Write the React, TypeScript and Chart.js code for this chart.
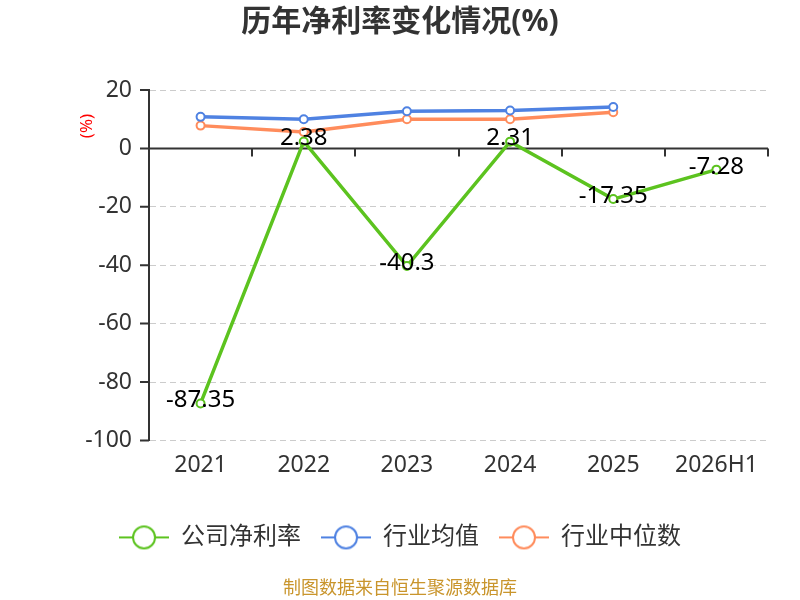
import { Chart, registerables } from "chart.js";
import { useEffect, useRef } from "react";

Chart.register(...registerables);

const years = ["2021", "2022", "2023", "2024", "2025", "2026H1"];
const companyRate = [-87.35, 2.38, -40.3, 2.31, -17.35, -7.28];
const industryAvg = [10.8, 10.0, 12.7, 13.0, 14.2, null];
const industryMedian = [7.8, 5.6, 10.0, 10.0, 12.4, null];
const seriesNames = ["公司净利率", "行业均值", "行业中位数"];
const seriesColors = ["#5cc31f", "#4f82e2", "#ff8c5c"];

const FONT = '"Noto Sans", "Noto Sans CJK SC", sans-serif';

function legendIcon(color: string) {
  const c = document.createElement("canvas");
  c.width = 50;
  c.height = 26;
  const g = c.getContext("2d")!;
  g.strokeStyle = color;
  g.lineWidth = 2;
  g.beginPath();
  g.moveTo(0, 13);
  g.lineTo(50, 13);
  g.stroke();
  g.beginPath();
  g.arc(25, 13, 11, 0, Math.PI * 2);
  g.fillStyle = "#fff";
  g.fill();
  g.stroke();
  return c;
}

const extras = {
  id: "extras",
  beforeDatasetsDraw(chart: any) {
    const { ctx, chartArea, scales } = chart;
    const x = scales.x;
    const y = scales.y;
    const y0 = y.getPixelForValue(0);
    ctx.save();
    ctx.strokeStyle = "#333";
    ctx.lineWidth = 2;
    ctx.beginPath();
    ctx.moveTo(chartArea.left, y0);
    ctx.lineTo(chartArea.right, y0);
    for (let i = 0; i <= years.length; i++) {
      const px = Math.round(x.getPixelForValue(i - 0.5));
      ctx.moveTo(px, y0);
      ctx.lineTo(px, y0 + 8);
    }
    for (const t of y.ticks) {
      const py = y.getPixelForValue(t.value);
      ctx.moveTo(chartArea.left - 9, py);
      ctx.lineTo(chartArea.left, py);
    }
    ctx.stroke();
    ctx.restore();
  },
  afterDatasetsDraw(chart: any) {
    const { ctx } = chart;
    const meta = chart.getDatasetMeta(0);
    ctx.save();
    ctx.font = `24px ${FONT}`;
    ctx.fillStyle = "#000";
    ctx.textAlign = "center";
    ctx.textBaseline = "middle";
    meta.data.forEach((pt: any, i: number) => {
      ctx.fillText(String(companyRate[i]), pt.x, pt.y - 3);
    });
    ctx.restore();
  },
  afterDraw(chart: any) {
    const { ctx } = chart;
    ctx.save();
    ctx.translate(87, 126);
    ctx.rotate(-Math.PI / 2);
    ctx.font = `17px ${FONT}`;
    ctx.fillStyle = "#ff0000";
    ctx.textAlign = "center";
    ctx.textBaseline = "middle";
    ctx.fillText("(%)", 0, 0);
    ctx.restore();
  },
};

function App() {
  const chartRef = useRef<HTMLCanvasElement | null>(null);
  useEffect(() => {
    const ctx = chartRef.current?.getContext("2d");
    if (!ctx) return;
    const icons = seriesColors.map(legendIcon);
    const values = [companyRate, industryAvg, industryMedian];

    const chart = new Chart(ctx, {
      type: "line",
      data: {
        labels: years,
        datasets: values.map((d, i) => ({
          label: seriesNames[i],
          data: d,
          borderColor: seriesColors[i],
          backgroundColor: "#fff",
          borderWidth: 3.5,
          pointRadius: 4,
          pointBorderWidth: 2,
          pointBackgroundColor: "#fff",
          pointBorderColor: seriesColors[i],
          tension: 0,
          order: i === 0 ? 0 : 1,
        })),
      },
      options: {
        responsive: true,
        maintainAspectRatio: false,
        animation: false,
        layout: { padding: { left: 32, right: 32, top: 0, bottom: 0 } },
        plugins: {
          title: {
            display: true,
            text: "历年净利率变化情况(%)",
            color: "#333",
            font: { family: FONT, size: 30, weight: "bold" },
            padding: { top: 4, bottom: 50 },
          },
          subtitle: {
            display: true,
            position: "bottom",
            text: "制图数据来自恒生聚源数据库",
            color: "#c9952c",
            font: { family: FONT, size: 18 },
            padding: { top: 19, bottom: 0 },
          },
          legend: {
            position: "bottom",
            labels: {
              usePointStyle: true,
              pointStyleWidth: 50,
              padding: 20,
              color: "#333",
              font: { family: FONT, size: 24 },
              generateLabels: (c: any) =>
                Chart.defaults.plugins.legend.labels
                  .generateLabels(c)
                  .map((l: any, i: number) => ({ ...l, pointStyle: icons[i] })),
            },
          },
          tooltip: { enabled: false },
        },
        scales: {
          x: {
            offset: true,
            grid: { display: false, drawTicks: false },
            border: { display: false },
            ticks: {
              color: "#333",
              font: { family: FONT, size: 23 },
              padding: 11,
              maxRotation: 0,
            },
            afterFit: (s: any) => {
              s.height = 65;
            },
          },
          y: {
            min: -100,
            max: 20,
            ticks: {
              stepSize: 20,
              color: "#333",
              font: { family: FONT, size: 23 },
              padding: 17,
            },
            grid: { color: "#cccccc", lineWidth: 1, drawTicks: false },
            border: { display: true, color: "#333", width: 2, dash: [6, 4] },
            afterFit: (s: any) => {
              s.width = 117;
            },
          },
        },
      },
      plugins: [extras],
    });
    return () => chart.destroy();
  }, []);

  return (
    <div style={{ position: "absolute", left: 0, top: 0, width: 800, height: 600 }}>
      <canvas ref={chartRef}></canvas>
    </div>
  );
}

export default App;
